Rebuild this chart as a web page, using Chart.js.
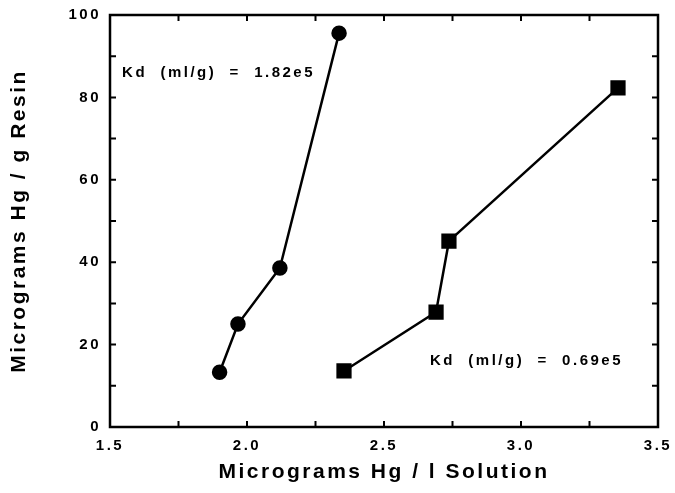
<!DOCTYPE html>
<html>
<head>
<meta charset="utf-8">
<script src="https://cdn.jsdelivr.net/npm/chart.js@4"></script>
<style>
  html, body { margin: 0; padding: 0; background: #fff; }
  #wrap { width: 675px; height: 493px; }
</style>
</head>
<body>
<div id="wrap"><canvas id="myChart"></canvas></div>
<script>
// values
const circleX = [1.90, 1.967, 2.12, 2.336];
const circleY = [13.3, 25.0, 38.6, 95.6];
const squareX = [2.354, 2.69, 2.737, 3.354];
const squareY = [13.6, 27.9, 45.1, 82.3];

const xTicks = [1.5, 2.0, 2.5, 3.0, 3.5];
const xMinor = [1.75, 2.25, 2.75, 3.25];
const yTicks = [0, 20, 40, 60, 80, 100];
const yMinor = [10, 30, 50, 70, 90];

const notes = [
  { text: 'Kd  (ml/g)  =  1.82e5', x: 1.544, y: 85.9 },
  { text: 'Kd  (ml/g)  =  0.69e5', x: 2.668, y: 16.0 }
];

const FONT = "'Liberation Sans', Arial, sans-serif";
const SPACING = '2.5px';

const toPoints = (xs, ys) => xs.map((x, i) => ({ x: x, y: ys[i] }));

const frame = {
  id: 'frame',
  beforeLayout(chart) { chart.ctx.letterSpacing = SPACING; },
  beforeDraw(chart) { chart.ctx.letterSpacing = SPACING; },
  afterDatasetsDraw(chart) {
    const ctx = chart.ctx;
    const a = chart.chartArea;
    const xs = chart.scales.x, ys = chart.scales.y;
    const len = 6;
    ctx.save();
    ctx.strokeStyle = '#000';
    ctx.lineWidth = 2.5;
    ctx.strokeRect(a.left, a.top, a.right - a.left, a.bottom - a.top);
    ctx.lineWidth = 2;
    ctx.beginPath();
    xTicks.concat(xMinor).forEach(v => {
      const p = xs.getPixelForValue(v);
      ctx.moveTo(p, a.bottom); ctx.lineTo(p, a.bottom - len);
      ctx.moveTo(p, a.top); ctx.lineTo(p, a.top + len);
    });
    yTicks.concat(yMinor).forEach(v => {
      const p = ys.getPixelForValue(v);
      ctx.moveTo(a.left, p); ctx.lineTo(a.left + len, p);
      ctx.moveTo(a.right, p); ctx.lineTo(a.right - len, p);
    });
    ctx.stroke();

    ctx.fillStyle = '#000';
    ctx.font = 'bold 15px ' + FONT;
    ctx.letterSpacing = '2.5px';
    ctx.textAlign = 'left';
    ctx.textBaseline = 'middle';
    notes.forEach(n => {
      ctx.fillText(n.text, xs.getPixelForValue(n.x), ys.getPixelForValue(n.y));
    });
    ctx.restore();
  }
};

const data = {
  datasets: [{
    label: 'Kd 1.82e5',
    data: toPoints(circleX, circleY),
    showLine: true,
    borderColor: '#000',
    backgroundColor: '#000',
    borderWidth: 2.5,
    pointStyle: 'circle',
    pointRadius: 6.5,
    pointHoverRadius: 6.5
  }, {
    label: 'Kd 0.69e5',
    data: toPoints(squareX, squareY),
    showLine: true,
    borderColor: '#000',
    backgroundColor: '#000',
    borderWidth: 2.5,
    pointStyle: 'rect',
    pointRadius: 9,
    pointHoverRadius: 9
  }]
};

const config = {
  type: 'scatter',
  data: data,
  plugins: [frame],
  options: {
    responsive: true,
    maintainAspectRatio: false,
    animation: false,
    events: [],
    layout: { padding: { top: 15, right: 17, left: 0, bottom: 0 } },
    plugins: {
      legend: { display: false },
      tooltip: { enabled: false }
    },
    scales: {
      x: {
        min: 1.5,
        max: 3.5,
        afterBuildTicks: s => { s.ticks = xTicks.map(v => ({ value: v })); },
        afterFit: s => { s.height = 66; s.paddingLeft = 0; s.paddingRight = 0; },
        grid: { display: false, drawTicks: false },
        border: { display: false },
        ticks: {
          color: '#000',
          padding: 10,
          maxRotation: 0,
          font: { family: FONT, size: 15, weight: 'bold' },
          callback: v => Number(v).toFixed(1)
        },
        title: {
          display: true,
          text: 'Micrograms Hg / l Solution',
          color: '#000',
          font: { family: FONT, size: 21, weight: 'bold' },
          padding: { top: 0, bottom: 8 }
        }
      },
      y: {
        min: 0,
        max: 100,
        afterBuildTicks: s => { s.ticks = yTicks.map(v => ({ value: v })); },
        afterFit: s => { s.width = 110; s.paddingTop = 0; s.paddingBottom = 0; },
        grid: { display: false, drawTicks: false },
        border: { display: false },
        ticks: {
          color: '#000',
          padding: 9,
          font: { family: FONT, size: 15, weight: 'bold' }
        },
        title: {
          display: true,
          text: 'Micrograms Hg / g Resin',
          color: '#000',
          font: { family: FONT, size: 21, weight: 'bold' },
          padding: { top: 7, bottom: 0 }
        }
      }
    }
  }
};

const myChart = new Chart(document.getElementById('myChart'), config);
</script>
</body>
</html>
